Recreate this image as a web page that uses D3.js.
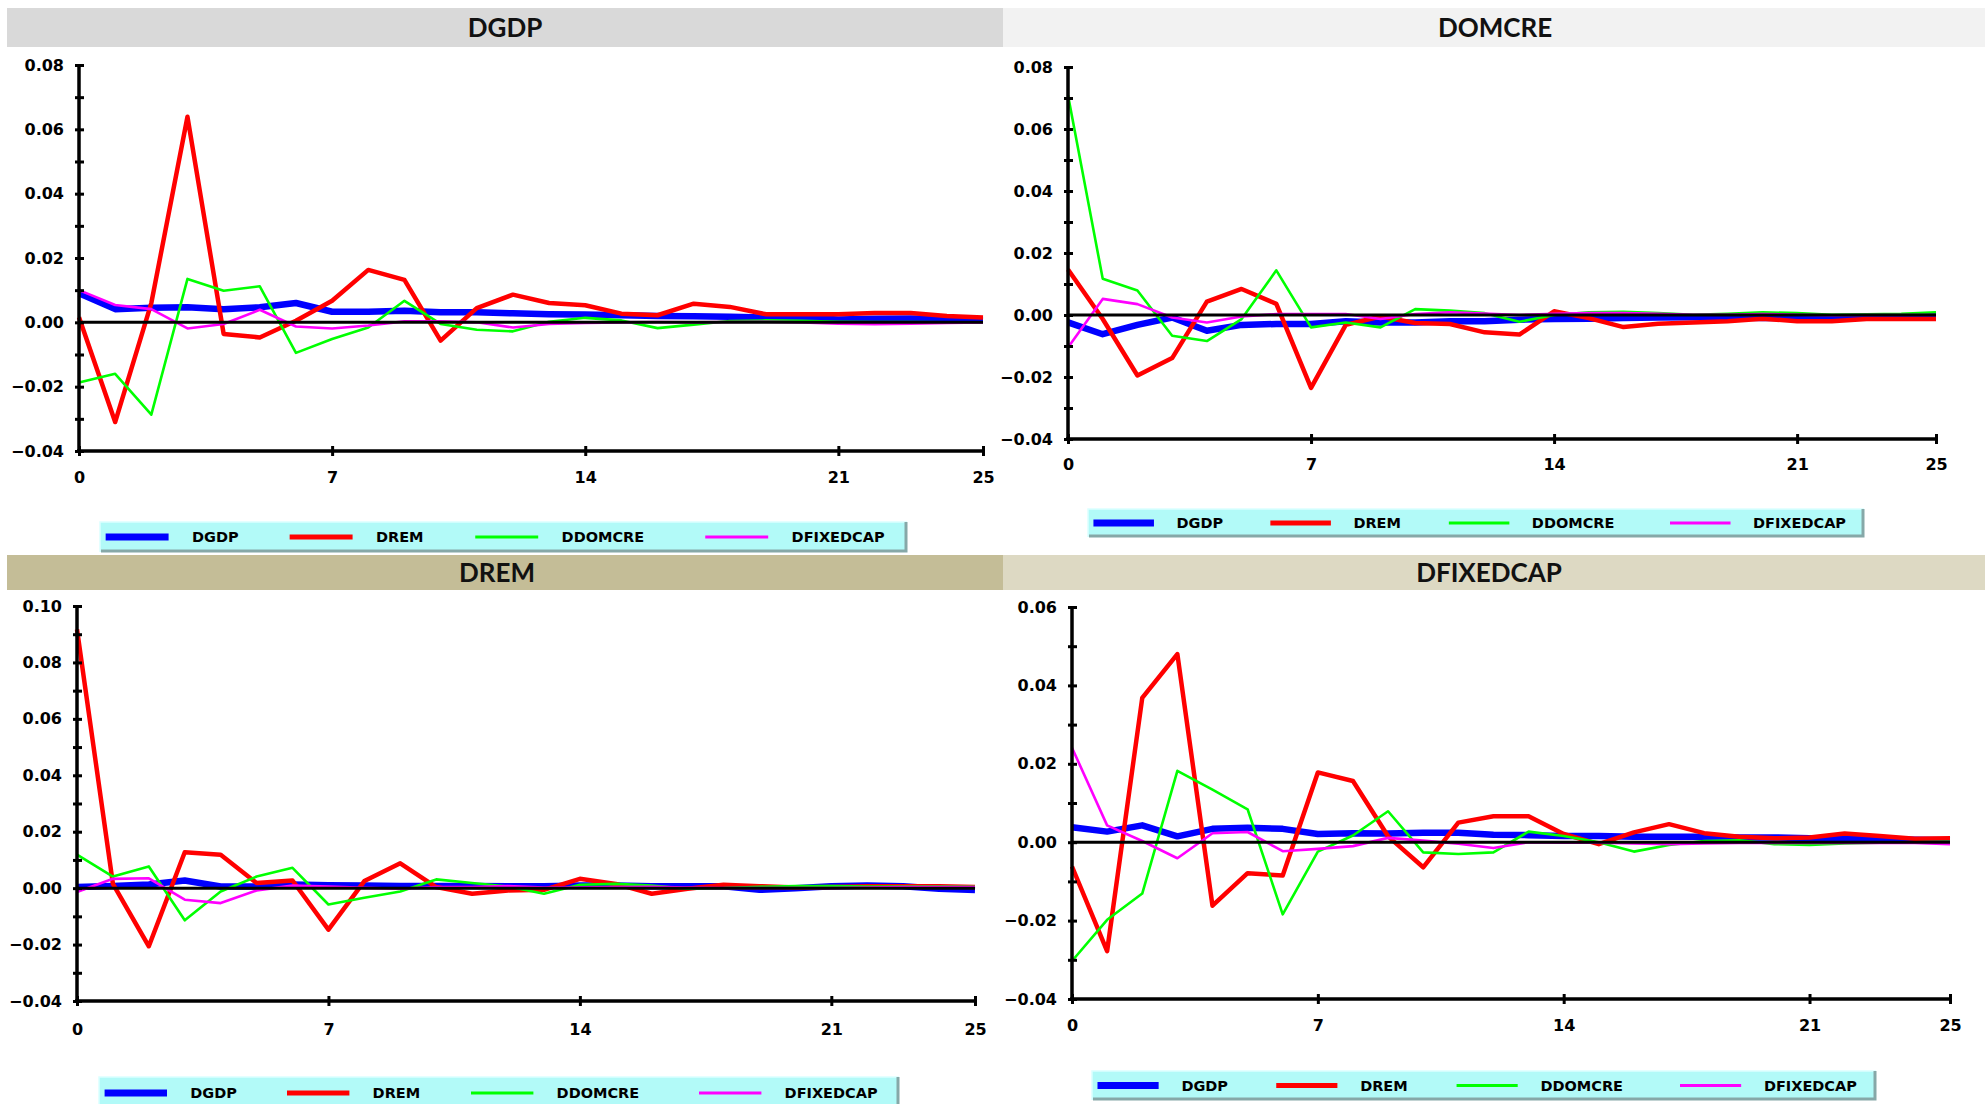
<!DOCTYPE html>
<html>
<head>
<meta charset="utf-8">
<script src="https://cdn.jsdelivr.net/npm/d3@7"></script>
<style>
  body { margin: 0; background: #fff; overflow: hidden; }
  text { font-family: "DejaVu Sans", Verdana, sans-serif; font-weight: bold; }
</style>
</head>
<body>
<script>
// horizon (periods after the shock)
var periods = [0,1,2,3,4,5,6,7,8,9,10,11,12,13,14,15,16,17,18,19,20,21,22,23,24,25];
var xTicks = [0, 7, 14, 21, 25];

// series shown in every panel, legend order
var seriesNames = ["DGDP", "DREM", "DDOMCRE", "DFIXEDCAP"];
var seriesColors = ["#0000ff", "#ff0000", "#00ff00", "#ff00ff"];

// panel: DGDP
var dgdp_DGDP = [0.009,0.0041,0.0045,0.0047,0.0041,0.0047,0.006,0.0033,0.0033,0.0036,0.0031,0.0031,0.0028,0.0025,0.0024,0.0022,0.002,0.0019,0.0017,0.0015,0.0014,0.0009,0.0011,0.0012,0.001,0.0006];
var dgdp_DREM = [0.0016,-0.031,0.006,0.0639,-0.0036,-0.0047,0.0005,0.0067,0.0163,0.0132,-0.0057,0.0044,0.0086,0.006,0.0053,0.0027,0.0022,0.0058,0.0048,0.0025,0.0025,0.0025,0.0029,0.0029,0.002,0.0015];
var dgdp_DDOMCRE = [-0.0187,-0.016,-0.0287,0.0135,0.0098,0.0112,-0.0095,-0.0052,-0.0016,0.0067,-0.0005,-0.0023,-0.0028,0.0002,0.0014,0.0006,-0.0018,-0.0007,0.0004,0.0006,0.0005,0.0002,0.0001,0.0001,0,0];
var dgdp_DFIXEDCAP = [0.010,0.0054,0.0041,-0.0019,-0.0005,0.0039,-0.0013,-0.0019,-0.001,0.0003,0.0003,0,-0.0016,-0.0005,-0.0002,0,0.0001,0,0.0001,0.0002,0,-0.0004,-0.0006,-0.0004,-0.0002,0];

// panel: DOMCRE
var domcre_DGDP = [-0.0024,-0.0062,-0.0032,-0.0008,-0.0051,-0.0032,-0.0029,-0.0029,-0.002,-0.0024,-0.0024,-0.002,-0.002,-0.0015,-0.0013,-0.0012,-0.001,-0.0008,-0.0007,-0.0008,-0.001,-0.001,-0.001,-0.0008,-0.0004,-0.0004];
var domcre_DREM = [0.0147,-0.0013,-0.0195,-0.0139,0.0043,0.0084,0.0036,-0.0235,-0.0032,-0.0005,-0.0026,-0.0029,-0.0056,-0.0063,0.0012,-0.001,-0.0039,-0.0028,-0.0024,-0.002,-0.0012,-0.002,-0.002,-0.0013,-0.0013,-0.0013];
var domcre_DDOMCRE = [0.0709,0.0117,0.0079,-0.0067,-0.0084,-0.0013,0.0144,-0.004,-0.0024,-0.004,0.0019,0.0014,0.0006,-0.0022,0,0.0009,0.001,0.0006,0.0001,0.0004,0.0009,0.0006,0.0001,0.0002,0.0004,0.0009];
var domcre_DFIXEDCAP = [-0.0105,0.0052,0.0035,-0.0008,-0.0024,-0.0005,0.0003,0.0003,0.0003,-0.0013,0.0003,0.0009,0.0005,0,0.0004,0.0006,0.0006,0.0004,0.0001,0.0001,0.0003,0.0001,-0.0001,0,0,0];

// panel: DREM
var drem_DGDP = [0.0004,0.0008,0.0013,0.0027,0.0006,0.0006,0.0013,0.001,0.0009,0.0008,0.0008,0.0008,0.0007,0.0007,0.0009,0.0009,0.0007,0.0007,0.0007,-0.0006,0,0.0007,0.0009,0.0007,-0.0002,-0.0007];
var drem_DREM = [0.0917,0.0015,-0.0206,0.0127,0.0118,0.0018,0.0027,-0.0147,0.0025,0.0088,0.0004,-0.002,-0.0008,-0.0006,0.0033,0.0015,-0.002,-0.0002,0.0012,0.0007,0.0002,0.0004,0.0007,0.0007,0.0007,0.0004];
var drem_DDOMCRE = [0.0119,0.0041,0.0077,-0.0114,-0.0012,0.0041,0.0072,-0.0058,-0.0034,-0.0012,0.0031,0.0018,0.0006,-0.002,0.0012,0.0015,0.0009,-0.0002,0,0.0005,0.0007,0.0007,0.0006,0.0006,0.0006,0.0005];
var drem_DFIXEDCAP = [-0.0014,0.0033,0.0035,-0.0041,-0.0053,-0.0008,0.0009,0.0006,0.0001,-0.0002,0.0004,0.0004,0.0007,0.0002,0.0002,0.0004,0.0005,0.0002,0,0,0,0,0.0002,0.0004,0.0004,0.0004];

// panel: DFIXEDCAP
var dfix_DGDP = [0.0038,0.0027,0.0043,0.0015,0.0034,0.0037,0.0034,0.0021,0.0023,0.0022,0.0024,0.0024,0.0019,0.0018,0.0016,0.0016,0.0014,0.0014,0.0014,0.0012,0.0012,0.001,0.001,0.0008,0.0006,0.0005];
var dfix_DREM = [-0.0062,-0.0278,0.0368,0.048,-0.0162,-0.0079,-0.0085,0.0178,0.0156,0.0015,-0.0064,0.005,0.0066,0.0066,0.0021,-0.0005,0.0025,0.0046,0.0023,0.0014,0.001,0.0012,0.0022,0.0016,0.0009,0.001];
var dfix_DDOMCRE = [-0.0303,-0.0198,-0.0131,0.0182,0.0134,0.0084,-0.0184,-0.0024,0.0017,0.0079,-0.0026,-0.003,-0.0026,0.0027,0.0016,0,-0.0024,-0.0007,0.0003,0.0005,-0.0005,-0.0007,-0.0003,-0.0001,0,0.0001];
var dfix_DFIXEDCAP = [0.0241,0.0043,0.0003,-0.0041,0.0023,0.0026,-0.0023,-0.0017,-0.001,0.0011,0.0004,-0.0004,-0.0015,0,-0.0001,-0.0001,-0.0003,-0.0005,-0.0003,-0.0002,-0.0002,-0.0002,-0.0002,-0.0001,-0.0002,-0.0005];

var width = 1985, height = 1104;

// layout of the four panels (positions only)
var panels = [
  { title: "DGDP", data: [dgdp_DGDP, dgdp_DREM, dgdp_DDOMCRE, dgdp_DFIXEDCAP],
    bar: [7, 8, 996, 39], barFill: "#d9d9d9", titleX: 505,
    x0: 79, x1: 983, yTop: 65, yBot: 451, yDomain: [-0.04, 0.08], xLabelY: 477,
    legend: [100, 522, 807, 30] },
  { title: "DOMCRE", data: [domcre_DGDP, domcre_DREM, domcre_DDOMCRE, domcre_DFIXEDCAP],
    bar: [1003, 8, 982, 39], barFill: "#f2f2f2", titleX: 1495,
    x0: 1068, x1: 1936, yTop: 67, yBot: 439, yDomain: [-0.04, 0.08], xLabelY: 464,
    legend: [1088, 509, 776, 28] },
  { title: "DREM", data: [drem_DGDP, drem_DREM, drem_DDOMCRE, drem_DFIXEDCAP],
    bar: [7, 555, 996, 35], barFill: "#c4bd97", titleX: 497,
    x0: 77, x1: 975, yTop: 606, yBot: 1001, yDomain: [-0.04, 0.10], xLabelY: 1029,
    legend: [99, 1077, 800, 32] },
  { title: "DFIXEDCAP", data: [dfix_DGDP, dfix_DREM, dfix_DDOMCRE, dfix_DFIXEDCAP],
    bar: [1003, 555, 982, 35], barFill: "#ddd9c3", titleX: 1489,
    x0: 1072, x1: 1950, yTop: 607, yBot: 999, yDomain: [-0.04, 0.06], xLabelY: 1025,
    legend: [1092, 1071, 784, 29] }
];

var lineWidths = [6.5, 4.5, 2.6, 2.6];
var legendWidths = [7, 5, 3, 3];

var svg = d3.select("body").append("svg")
    .attr("width", width)
    .attr("height", height);

panels.forEach(function(p) {
  var g = svg.append("g");

  // title bar
  g.append("rect")
      .attr("x", p.bar[0]).attr("y", p.bar[1])
      .attr("width", p.bar[2]).attr("height", p.bar[3])
      .attr("fill", p.barFill);
  g.append("text")
      .attr("x", p.titleX)
      .attr("y", p.bar[1] + p.bar[3] / 2)
      .attr("dy", "0.36em")
      .attr("text-anchor", "middle")
      .style("font-family", "Lato, 'Open Sans', sans-serif")
      .style("font-size", "26px")
      .attr("fill", "#111")
      .text(p.title);

  var x = d3.scaleLinear().domain([0, 25]).range([p.x0, p.x1]);
  var y = d3.scaleLinear().domain(p.yDomain).range([p.yBot, p.yTop]);

  // series lines
  var line = d3.line()
      .x(function(d, i) { return x(periods[i]); })
      .y(function(d) { return y(d); });

  p.data.forEach(function(vals, k) {
    g.append("path")
        .datum(vals)
        .attr("d", line)
        .attr("fill", "none")
        .attr("stroke", seriesColors[k])
        .attr("stroke-width", lineWidths[k])
        .attr("stroke-linejoin", "round");
  });

  // zero line
  g.append("line")
      .attr("x1", x(0)).attr("x2", x(25))
      .attr("y1", y(0)).attr("y2", y(0))
      .attr("stroke", "#000")
      .attr("stroke-width", 3);

  // y axis: ticks every 0.01, labels every 0.02
  var lo = Math.round(p.yDomain[0] * 100), hi = Math.round(p.yDomain[1] * 100);
  var yTickVals = d3.range(lo, hi + 1).map(function(v) { return v / 100; });
  var yAxis = g.append("g")
      .attr("transform", "translate(" + p.x0 + ",0)")
      .call(d3.axisLeft(y)
        .tickValues(yTickVals)
        .tickSize(4)
        .tickPadding(11)
        .tickFormat(function(d) {
          return Math.round(d * 100) % 2 === 0 ? d3.format(".2f")(d) : "";
        }));
  yAxis.select(".domain").remove();
  yAxis.selectAll(".tick line")
      .attr("x1", 5).attr("x2", -4)
      .attr("stroke", "#000").attr("stroke-width", 3);
  yAxis.selectAll(".tick text")
      .style("font-size", "16px")
      .attr("fill", "#000");
  g.append("line")
      .attr("x1", p.x0).attr("x2", p.x0)
      .attr("y1", p.yTop - 1).attr("y2", p.yBot + 1)
      .attr("stroke", "#000").attr("stroke-width", 3.5);

  // x axis
  var xAxis = g.append("g")
      .attr("transform", "translate(0," + p.yBot + ")")
      .call(d3.axisBottom(x).tickValues(xTicks).tickSize(5).tickFormat(d3.format("d")));
  xAxis.select(".domain").remove();
  xAxis.selectAll(".tick line")
      .attr("y1", -5).attr("y2", 5)
      .attr("stroke", "#000").attr("stroke-width", 3);
  xAxis.selectAll(".tick text")
      .attr("y", p.xLabelY - p.yBot)
      .attr("dy", "0.36em")
      .style("font-size", "16px")
      .attr("fill", "#000");
  g.append("line")
      .attr("x1", p.x0 - 2).attr("x2", p.x1 + 1)
      .attr("y1", p.yBot).attr("y2", p.yBot)
      .attr("stroke", "#000").attr("stroke-width", 3.5);

  // legend
  var L = p.legend;
  var lg = g.append("g").attr("transform", "translate(" + L[0] + "," + L[1] + ")");
  lg.append("rect")
      .attr("width", L[2]).attr("height", L[3])
      .attr("fill", "#b2faf8");
  lg.append("path")
      .attr("d", "M0," + L[3] + "V0H" + L[2])
      .attr("fill", "none").attr("stroke", "#dcffff").attr("stroke-width", 1.5);
  lg.append("path")
      .attr("d", "M" + (L[2] - 1) + ",0V" + (L[3] - 1) + "H1")
      .attr("fill", "none").attr("stroke", "#86a8a8").attr("stroke-width", 3);

  var starts = [0.007, 0.235, 0.465, 0.75];
  seriesNames.forEach(function(name, k) {
    var sx = starts[k] * L[2];
    lg.append("line")
        .attr("x1", sx).attr("x2", sx + 0.078 * L[2])
        .attr("y1", L[3] / 2).attr("y2", L[3] / 2)
        .attr("stroke", seriesColors[k])
        .attr("stroke-width", legendWidths[k]);
    lg.append("text")
        .attr("x", sx + 0.107 * L[2])
        .attr("y", L[3] / 2)
        .attr("dy", "0.36em")
        .style("font-size", "14.5px")
        .attr("fill", "#000")
        .text(name);
  });
});
</script>
</body>
</html>
